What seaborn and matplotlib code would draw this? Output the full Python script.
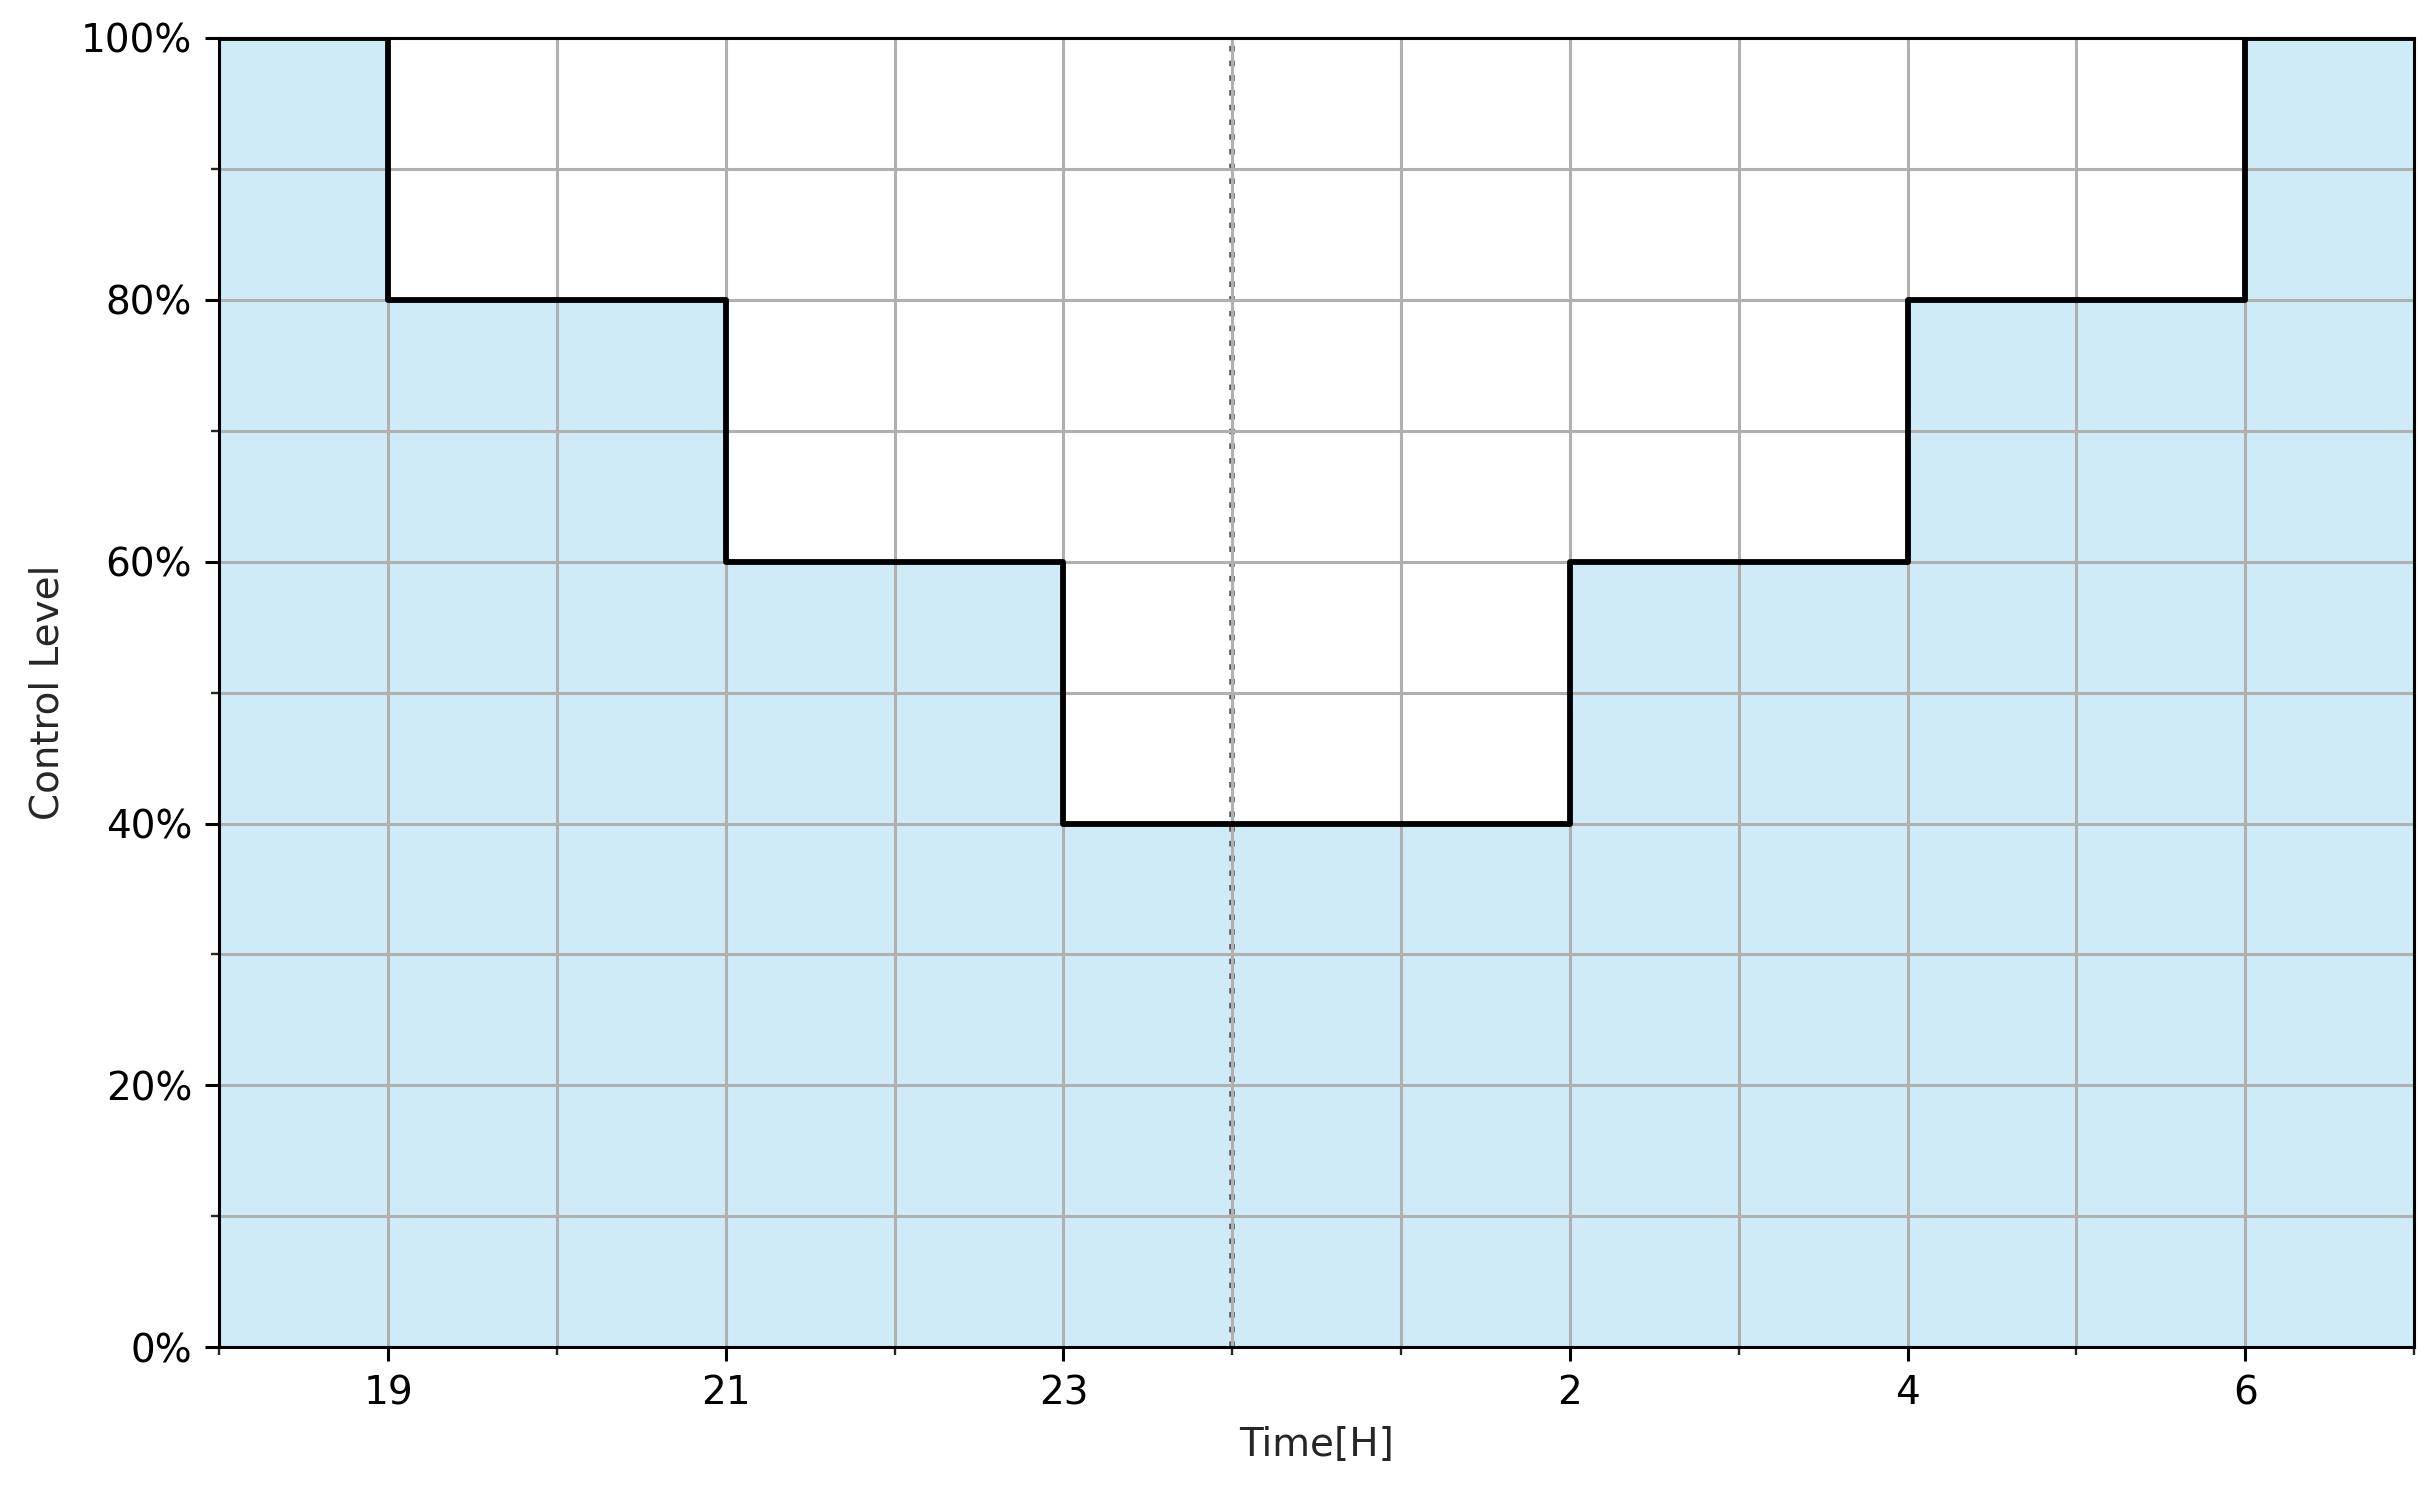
import matplotlib
matplotlib.use("Agg")
import matplotlib.pyplot as plt
import seaborn as sns
import pandas as pd
from matplotlib.ticker import FixedLocator, PercentFormatter

# Data
hours = [18, 19, 21, 23, 26, 28, 30, 31]          # 18 = 18:00, 26 = 02:00 next day
levels = [100, 80, 60, 40, 60, 80, 100, 100]      # control level (%), step-post
major_ticks = [19, 21, 23, 26, 28, 30]
major_labels = ["19", "21", "23", "2", "4", "6"]
minor_ticks = [18, 20, 22, 24, 25, 27, 29, 31]
midnight = 24

sns.set_style("ticks")
plt.rcParams['font.family'] = ['DejaVu Sans']

df = pd.DataFrame({"hour": hours, "level": levels})

fig = plt.figure(figsize=(12.18, 7.435), dpi=200)
ax = fig.add_axes([0.09, 0.094, 0.901, 0.8805])
ax.set_axisbelow(False)

ax.fill_between(df["hour"], df["level"], step="post", color="skyblue", alpha=0.4, linewidth=0, zorder=1)
sns.lineplot(data=df, x="hour", y="level", drawstyle="steps-post", color="black", linewidth=2.1, ax=ax, zorder=3)
ax.axvline(midnight, color="#555555", linestyle=":", linewidth=2.0, zorder=2.5)

ax.set_xlim(18, 31)
ax.set_ylim(0, 100)
ax.xaxis.set_major_locator(FixedLocator(major_ticks))
ax.set_xticklabels(major_labels)
ax.xaxis.set_minor_locator(FixedLocator(minor_ticks))
ax.yaxis.set_major_locator(FixedLocator([0, 20, 40, 60, 80, 100]))
ax.yaxis.set_minor_locator(FixedLocator([10, 30, 50, 70, 90]))
ax.yaxis.set_major_formatter(PercentFormatter(decimals=0))
ax.grid(True, which="both", color="#b0b0b0", linewidth=1.1, zorder=1.5)
ax.tick_params(which="major", length=4.9, width=1.1, labelsize=14, colors="black", pad=4.9)
ax.tick_params(which="minor", length=2.8, width=0.85)
for s in ax.spines.values():
    s.set_visible(True)
    s.set_color("black")
    s.set_linewidth(1.1)
    s.set_zorder(4)
ax.set_xlabel("Time[H]", fontsize=14, labelpad=5)
ax.set_ylabel("Control Level", fontsize=14, labelpad=5)

fig.savefig("out.png", dpi=200)
